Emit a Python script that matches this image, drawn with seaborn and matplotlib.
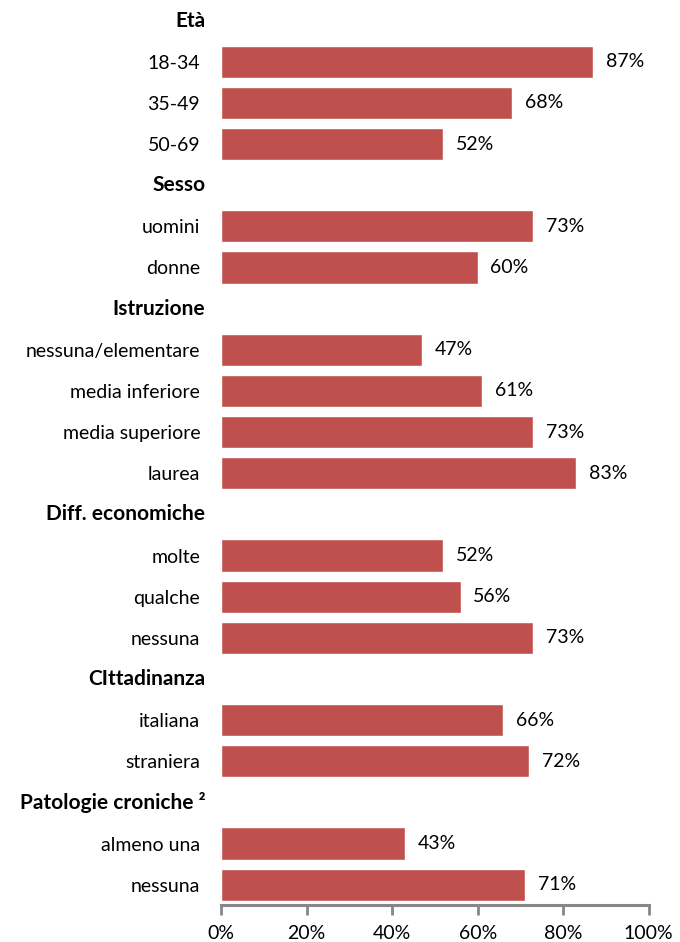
#!/usr/bin/env python3

import pandas as pd
import matplotlib.pyplot as plt
import seaborn as sns

sns.set_style('white')
plt.rcParams['font.family'] = ['Lato', 'DejaVu Sans']

bar_color = '#C0504D'
axis_gray = '#868686'

# Data: groups, their categories and the percentages
groups = ['Età', 'Sesso', 'Istruzione', 'Diff. economiche', 'CIttadinanza',
          'Patologie croniche \u00b2']
eta = ['18-34', '35-49', '50-69']
eta_val = [87, 68, 52]
sesso = ['uomini', 'donne']
sesso_val = [73, 60]
istruzione = ['nessuna/elementare', 'media inferiore', 'media superiore', 'laurea']
istruzione_val = [47, 61, 73, 83]
diff_econ = ['molte', 'qualche', 'nessuna']
diff_econ_val = [52, 56, 73]
cittadinanza = ['italiana', 'straniera']
cittadinanza_val = [66, 72]
patologie = ['almeno una', 'nessuna']
patologie_val = [43, 71]

cats = [eta, sesso, istruzione, diff_econ, cittadinanza, patologie]
vals = [eta_val, sesso_val, istruzione_val, diff_econ_val, cittadinanza_val, patologie_val]

# Build long table; header rows have no bar
rows = []
order = []
labels = []
is_header = []
for g, cs, vs in zip(groups, cats, vals):
    order.append(g)
    labels.append('')
    is_header.append(True)
    for c, v in zip(cs, vs):
        key = g + '|' + c
        rows.append({'key': key, 'pct': v})
        order.append(key)
        labels.append(c)
        is_header.append(False)
df = pd.DataFrame(rows)

fig = plt.figure(figsize=(6.8, 9.42), dpi=100)
ax = fig.add_axes([0.325, 0.039, 0.629, 0.961])

sns.barplot(data=df, x='pct', y='key', order=order, color=bar_color,
            width=0.78, saturation=1, ax=ax, orient='h')

ax.set_xlim(0, 100)
ax.set_ylim(len(order) - 0.5, -0.5)
ax.set_xticks(range(0, 101, 20))
ax.set_xticklabels([f'{t}%' for t in range(0, 101, 20)], fontsize=14)
ax.set_yticks(range(len(order)))
ax.set_yticklabels(labels, fontsize=14)
ax.set_xlabel('')
ax.set_ylabel('')

# group headers, bold, slightly closer to the bars
for i, (name, h) in enumerate(zip(order, is_header)):
    if h:
        ax.text(-0.037, i, name, transform=ax.get_yaxis_transform(),
                ha='right', va='center', fontsize=15, fontweight='bold',
                color='black')

for s in ['top', 'right', 'left']:
    ax.spines[s].set_visible(False)
ax.spines['bottom'].set_color(axis_gray)
ax.spines['bottom'].set_linewidth(2.2)
ax.tick_params(axis='y', length=0, pad=15, labelcolor='black')
ax.tick_params(axis='x', direction='out', length=7, width=2, color=axis_gray,
               pad=7, bottom=True, labelcolor='black')

# value labels
for p in ax.patches:
    w = p.get_width()
    if w != w or w == 0:
        continue
    ax.text(w + 3, p.get_y() + p.get_height() / 2, f'{w:.0f}%',
            va='center', ha='left', fontsize=14, color='black')

plt.savefig('out.png', dpi=100)
